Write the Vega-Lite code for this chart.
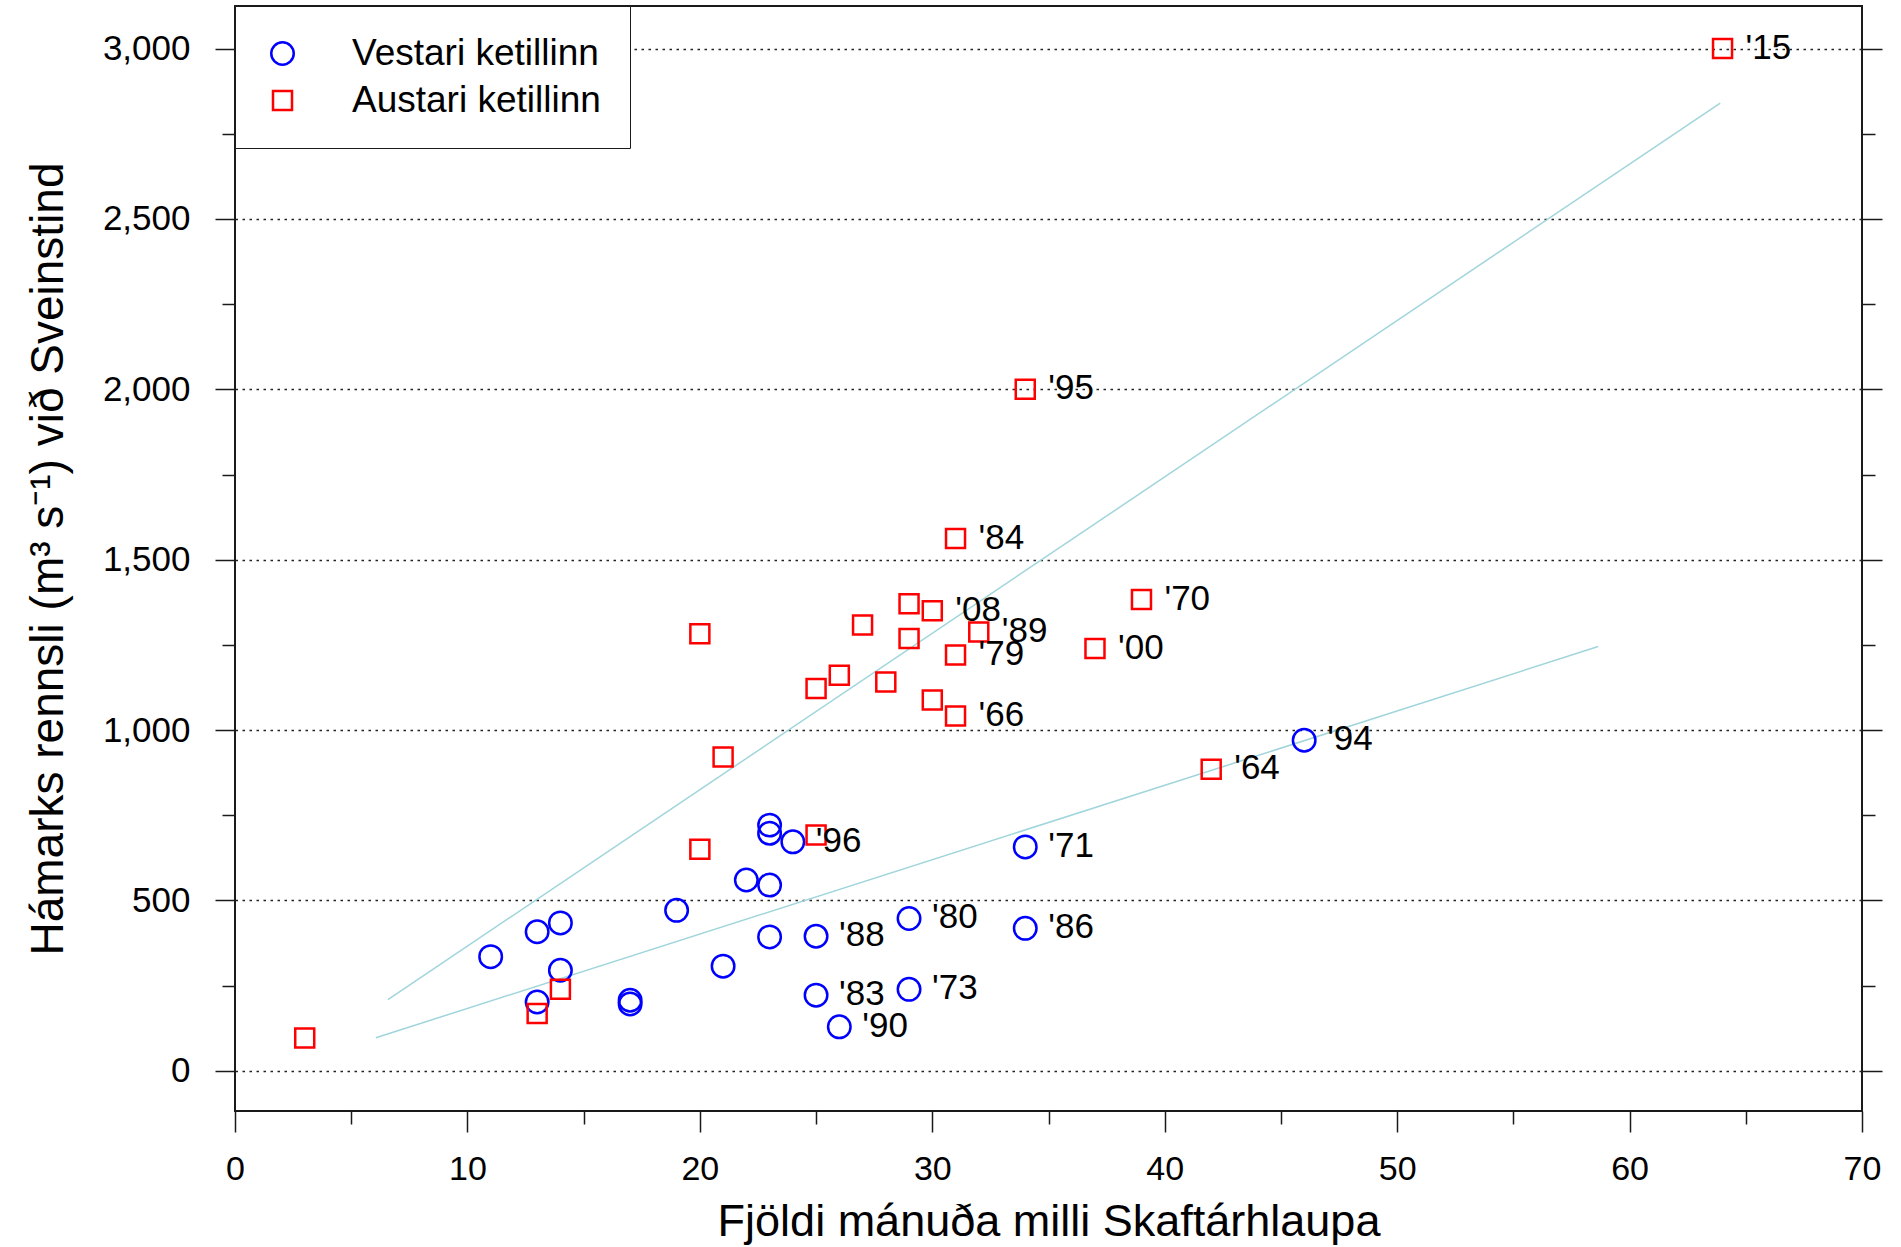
{
  "$schema": "https://vega.github.io/schema/vega-lite/v6.json",
  "width": 1627,
  "height": 1105,
  "autosize": {"type": "none"},
  "padding": {"left": 235, "top": 6, "right": 39, "bottom": 136},
  "background": "white",
  "config": {
    "view": {"stroke": "#1a1a1a", "strokeWidth": 2},
    "font": "Liberation Sans",
    "axis": {
      "labelFont": "Liberation Sans",
      "titleFont": "Liberation Sans",
      "labelColor": "black",
      "titleColor": "black",
      "titleFontWeight": "normal",
      "tickColor": "#1a1a1a",
      "tickWidth": 1.5,
      "domain": false,
      "labelFlush": false,
      "labelOverlap": false
    },
    "legend": {
      "labelFont": "Liberation Sans",
      "labelFontSize": 37,
      "labelColor": "black",
      "labelLimit": 0,
      "symbolStrokeWidth": 2.5,
      "fillColor": "white",
      "strokeColor": "#1a1a1a",
      "padding": 29,
      "rowPadding": 9,
      "labelOffset": 51,
      "symbolOffset": 0
    }
  },
  "datasets": {
    "fits": [
      {"fit": "austari", "months": 6.58, "flow": 209},
      {"fit": "austari", "months": 63.9, "flow": 2840},
      {"fit": "vestari", "months": 6.06, "flow": 97},
      {"fit": "vestari", "months": 58.65, "flow": 1245}
    ],
    "floods": [
      {"kind": "Vestari ketillinn", "months": 11, "flow": 335, "label": null},
      {"kind": "Vestari ketillinn", "months": 13, "flow": 408, "label": null},
      {"kind": "Vestari ketillinn", "months": 14, "flow": 434, "label": null},
      {"kind": "Vestari ketillinn", "months": 14, "flow": 295, "label": null},
      {"kind": "Vestari ketillinn", "months": 13, "flow": 202, "label": null},
      {"kind": "Vestari ketillinn", "months": 17, "flow": 207, "label": null},
      {"kind": "Vestari ketillinn", "months": 17, "flow": 196, "label": null},
      {"kind": "Vestari ketillinn", "months": 19, "flow": 471, "label": null},
      {"kind": "Vestari ketillinn", "months": 21, "flow": 307, "label": null},
      {"kind": "Vestari ketillinn", "months": 22, "flow": 560, "label": null},
      {"kind": "Vestari ketillinn", "months": 23, "flow": 545, "label": null},
      {"kind": "Vestari ketillinn", "months": 23, "flow": 393, "label": null},
      {"kind": "Vestari ketillinn", "months": 23, "flow": 721, "label": null},
      {"kind": "Vestari ketillinn", "months": 23, "flow": 697, "label": null},
      {"kind": "Vestari ketillinn", "months": 24, "flow": 672, "label": "'96"},
      {"kind": "Vestari ketillinn", "months": 25, "flow": 395, "label": "'88"},
      {"kind": "Vestari ketillinn", "months": 25, "flow": 222, "label": "'83"},
      {"kind": "Vestari ketillinn", "months": 26, "flow": 129, "label": "'90"},
      {"kind": "Vestari ketillinn", "months": 29, "flow": 447, "label": "'80"},
      {"kind": "Vestari ketillinn", "months": 29, "flow": 239, "label": "'73"},
      {"kind": "Vestari ketillinn", "months": 34, "flow": 657, "label": "'71"},
      {"kind": "Vestari ketillinn", "months": 34, "flow": 418, "label": "'86"},
      {"kind": "Vestari ketillinn", "months": 46, "flow": 970, "label": "'94"},
      {"kind": "Austari ketillinn", "months": 3, "flow": 96, "label": null},
      {"kind": "Austari ketillinn", "months": 13, "flow": 168, "label": null},
      {"kind": "Austari ketillinn", "months": 14, "flow": 239, "label": null},
      {"kind": "Austari ketillinn", "months": 20, "flow": 1283, "label": null},
      {"kind": "Austari ketillinn", "months": 20, "flow": 650, "label": null},
      {"kind": "Austari ketillinn", "months": 21, "flow": 921, "label": null},
      {"kind": "Austari ketillinn", "months": 25, "flow": 1122, "label": null},
      {"kind": "Austari ketillinn", "months": 25, "flow": 692, "label": null},
      {"kind": "Austari ketillinn", "months": 26, "flow": 1161, "label": null},
      {"kind": "Austari ketillinn", "months": 27, "flow": 1308, "label": null},
      {"kind": "Austari ketillinn", "months": 28, "flow": 1141, "label": null},
      {"kind": "Austari ketillinn", "months": 29, "flow": 1371, "label": null},
      {"kind": "Austari ketillinn", "months": 29, "flow": 1269, "label": null},
      {"kind": "Austari ketillinn", "months": 30, "flow": 1350, "label": "'08"},
      {"kind": "Austari ketillinn", "months": 30, "flow": 1088, "label": null},
      {"kind": "Austari ketillinn", "months": 31, "flow": 1562, "label": "'84"},
      {"kind": "Austari ketillinn", "months": 31, "flow": 1220, "label": "'79"},
      {"kind": "Austari ketillinn", "months": 31, "flow": 1041, "label": "'66"},
      {"kind": "Austari ketillinn", "months": 32, "flow": 1288, "label": "'89"},
      {"kind": "Austari ketillinn", "months": 34, "flow": 2000, "label": "'95"},
      {"kind": "Austari ketillinn", "months": 37, "flow": 1239, "label": "'00"},
      {"kind": "Austari ketillinn", "months": 39, "flow": 1383, "label": "'70"},
      {"kind": "Austari ketillinn", "months": 42, "flow": 885, "label": "'64"},
      {"kind": "Austari ketillinn", "months": 64, "flow": 3000, "label": "'15"}
    ]
  },
  "layer": [
    {
      "data": {"name": "fits"},
      "mark": {"type": "line", "color": "#9fd5db", "strokeWidth": 1.5},
      "encoding": {
        "x": {
          "field": "months",
          "type": "quantitative",
          "scale": {"domain": [0, 70], "nice": false, "zero": false},
          "axis": {
            "values": [0, 5, 10, 15, 20, 25, 30, 35, 40, 45, 50, 55, 60, 65, 70],
            "labelExpr": "datum.value % 10 === 0 ? datum.label : ''",
            "labelFontSize": 34,
            "labelPadding": 20,
            "tickSize": {"condition": {"test": "datum.value % 10 === 0", "value": 21}, "value": 13},
            "grid": false,
            "title": "Fjöldi mánuða milli Skaftárhlaupa",
            "titleFontSize": 45,
            "titlePadding": 13
          }
        },
        "y": {
          "field": "flow",
          "type": "quantitative",
          "scale": {"domain": [-118, 3125], "nice": false, "zero": false},
          "axis": {
            "orient": "left",
            "values": [0, 250, 500, 750, 1000, 1250, 1500, 1750, 2000, 2250, 2500, 2750, 3000],
            "format": ",d",
            "labelExpr": "datum.value % 500 === 0 ? datum.label : ''",
            "labelFontSize": 35,
            "labelPadding": 25,
            "tickSize": {"condition": {"test": "datum.value % 500 === 0", "value": 20}, "value": 13},
            "grid": true,
            "gridColor": "#222222",
            "gridDash": [2.5, 4.5],
            "gridWidth": 1.3,
            "gridOpacity": {"condition": {"test": "datum.value % 500 === 0", "value": 1}, "value": 0},
            "title": "Hámarks rennsli (m³ s⁻¹) við Sveinstind",
            "titleFontSize": 46,
            "titlePadding": 30
          }
        },
        "detail": {"field": "fit", "type": "nominal"}
      }
    },
    {
      "data": {"name": "floods"},
      "mark": {"type": "point", "filled": false, "strokeWidth": 2.5, "opacity": 1},
      "encoding": {
        "x": {"field": "months", "type": "quantitative"},
        "y": {
          "field": "flow",
          "type": "quantitative",
          "axis": {
            "orient": "right",
            "values": [0, 250, 500, 750, 1000, 1250, 1500, 1750, 2000, 2250, 2500, 2750, 3000],
            "labels": false,
            "tickSize": {"condition": {"test": "datum.value % 500 === 0", "value": 20}, "value": 13},
            "grid": false,
            "title": null
          }
        },
        "color": {
          "field": "kind",
          "type": "nominal",
          "scale": {"domain": ["Vestari ketillinn", "Austari ketillinn"], "range": ["#0000ff", "#ff0000"]},
          "legend": {"title": null, "orient": "none", "legendX": 0, "legendY": 0, "encode": {"legend": {"update": {"strokeWidth": {"value": 2}}}}}
        },
        "shape": {
          "field": "kind",
          "type": "nominal",
          "scale": {"domain": ["Vestari ketillinn", "Austari ketillinn"], "range": ["circle", "square"]},
          "legend": {"title": null, "orient": "none", "legendX": 0, "legendY": 0}
        },
        "size": {
          "field": "kind",
          "type": "nominal",
          "scale": {"domain": ["Vestari ketillinn", "Austari ketillinn"], "range": [506, 361]},
          "legend": {"title": null, "orient": "none", "legendX": 0, "legendY": 0}
        }
      }
    },
    {
      "data": {"name": "floods"},
      "transform": [{"filter": "datum.label != null"}],
      "mark": {"type": "text", "align": "left", "baseline": "middle", "dx": 23, "dy": -1, "fontSize": 35, "font": "Liberation Sans", "color": "black"},
      "encoding": {
        "x": {"field": "months", "type": "quantitative"},
        "y": {"field": "flow", "type": "quantitative", "axis": null},
        "text": {"field": "label", "type": "nominal"}
      }
    }
  ],
  "resolve": {"axis": {"y": "independent"}}
}
